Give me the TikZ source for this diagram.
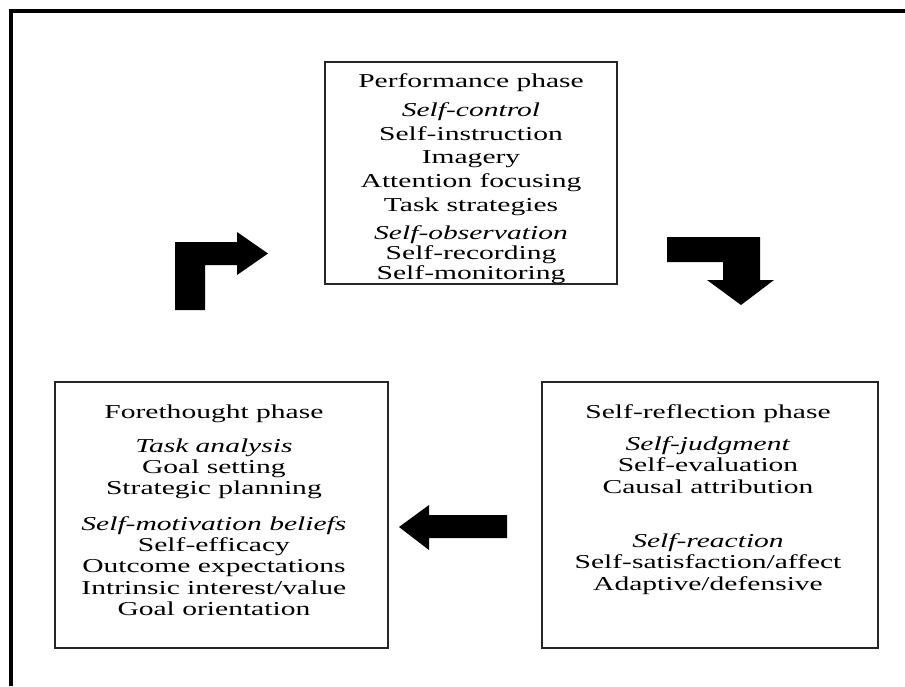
\documentclass[tikz,border=0pt]{standalone}
\usepackage{fontspec}
\setmainfont{Liberation Serif}[FakeStretch=1.5]
\usetikzlibrary{positioning}
\newcommand{\phasefont}{\fontsize{14}{15}\selectfont}

\begin{document}
\begin{tikzpicture}[x=0.025cm,y=-0.025cm,
  phasebox/.style={draw=black!85,line width=0.9pt,inner sep=0pt},
  phasetext/.style={align=center,inner sep=0pt,font=\phasefont},
  blockarrow/.style={fill=black}]
\useasboundingbox (0,0) rectangle (905,686);
% outer frame, top and left only
\draw[line width=2.8pt] (11,686) -- (11,11) -- (905,11);

% the three phases
\node[phasebox,minimum width=7.3cm,minimum height=5.55cm] (perf) at (471,173) {};
\node[phasebox,minimum width=8.325cm,minimum height=6.65cm] (fore) at (221.5,515) {};
\node[phasebox,minimum width=8.4cm,minimum height=6.65cm] (refl) at (710,515) {};

\node[phasetext,font=\fontsize{14}{16.8}\selectfont,below=0.3cm of perf.north] (perftext) {Performance phase\\[4pt]
  \textit{Self-control}\\ Self-instruction\\ Imagery\\ Attention focusing\\ Task strategies\\[3pt]
  \textit{Self-observation}\\[-2.5pt] Self-recording\\[-2.5pt] Self-monitoring};
\node[phasetext,below=0.575cm of fore.north,xshift=-0.19cm] (foretext) {Forethought phase\\[9pt]
  \textit{Task analysis}\\ Goal setting\\ Strategic planning\\[11pt]
  \textit{Self-motivation beliefs}\\ Self-efficacy\\ Outcome expectations\\ Intrinsic interest/value\\ Goal orientation};
\node[phasetext,below=0.575cm of refl.north,xshift=-0.05cm] (refltext) {Self-reflection phase\\[8pt]
  \textit{Self-judgment}\\ Self-evaluation\\ Causal attribution\\[24pt]
  \textit{Self-reaction}\\ Self-satisfaction/affect\\ Adaptive/defensive};

% block arrows of the cycle
\fill[blockarrow] (175,310) -- (175,242) -- (237,242) -- (237,232) -- (268,253.5)
  -- (237,275) -- (237,265) -- (205,265) -- (205,310) -- cycle;
\fill[blockarrow] (667,237) -- (760,237) -- (760,280) -- (774,280) -- (741,305)
  -- (707,280) -- (723,280) -- (723,262) -- (667,262) -- cycle;
\fill[blockarrow] (507,515) -- (429,515) -- (429,505) -- (399,527) -- (429,550)
  -- (429,538) -- (507,538) -- cycle;
\end{tikzpicture}
\end{document}
